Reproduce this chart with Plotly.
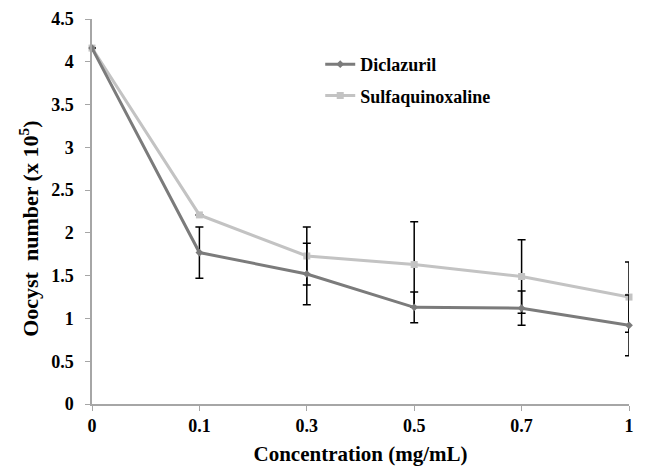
import plotly.graph_objects as go

concentrations = ["0", "0.1", "0.3", "0.5", "0.7", "1"]
diclazuril = [4.16, 1.77, 1.52, 1.13, 1.12, 0.92]
diclazuril_err = [0, 0.30, 0.36, 0.18, 0.20, 0.355]
sulfaquinoxaline = [4.16, 2.21, 1.73, 1.63, 1.49, 1.25]
sulfaquinoxaline_err = [0, 0, 0.34, 0.50, 0.43, 0.41]
y_ticks = [0, 0.5, 1, 1.5, 2, 2.5, 3, 3.5, 4, 4.5]

font_family = "Liberation Serif"

fig = go.Figure()
fig.add_trace(go.Scatter(
    x=concentrations, y=sulfaquinoxaline, name="<b>Sulfaquinoxaline</b>",
    mode="lines+markers", legendgroup="s", legendrank=2,
    line=dict(color="#c3c3c3", width=3),
    marker=dict(symbol="square", size=7, color="#c3c3c3"),
    error_y=dict(type="data", array=sulfaquinoxaline_err, visible=True,
                 color="black", thickness=1.5, width=4),
    cliponaxis=False,
))
fig.add_trace(go.Scatter(
    x=concentrations, y=diclazuril, name="<b>Diclazuril</b>",
    mode="lines+markers", legendgroup="d", legendrank=1,
    line=dict(color="#7b7b7b", width=3),
    marker=dict(symbol="diamond", size=6, color="#7b7b7b"),
    error_y=dict(type="data", array=diclazuril_err, visible=True,
                 color="black", thickness=1.5, width=4),
    cliponaxis=False,
))

fig.update_layout(
    width=646, height=470,
    margin=dict(l=84, r=25, t=11, b=74),
    plot_bgcolor="white", paper_bgcolor="white",
    font=dict(family=font_family, size=18, color="black"),
    showlegend=True,
    legend=dict(x=0.425, y=0.93, xanchor="left", yanchor="top",
                traceorder="grouped", tracegroupgap=5,
                font=dict(family=font_family, size=18, color="black"),
                bgcolor="rgba(0,0,0,0)"),
    xaxis=dict(
        type="category", range=[0, 5], automargin=False,
        showgrid=False, zeroline=False,
        showline=True, linecolor="#a6a6a6", linewidth=1.5,
        ticks="outside", ticklen=5, tickcolor="#a6a6a6",
        ticktext=["<b>%s</b>" % c for c in concentrations], tickvals=concentrations,
        tickfont=dict(family=font_family, size=18),
        title=dict(text="<b>Concentration (mg/mL)</b>", standoff=11,
                   font=dict(family=font_family, size=21)),
    ),
    yaxis=dict(
        range=[0, 4.5], tickvals=y_ticks, automargin=False,
        ticktext=["<b>%g</b>" % v for v in y_ticks],
        showgrid=False, zeroline=False,
        showline=True, linecolor="#a6a6a6", linewidth=1.5,
        ticks="outside", ticklen=5, tickcolor="#a6a6a6",
        ticklabelstandoff=8,
        tickfont=dict(family=font_family, size=18),
    ),
    annotations=[dict(
        text="<b>Oocyst  number (x 10<sup>5</sup>)</b>",
        textangle=-90, xref="paper", yref="paper", x=0, y=0.455,
        xanchor="center", yanchor="middle", xshift=-63, showarrow=False,
        font=dict(family=font_family, size=22, color="black"),
    )],
)

fig.write_html("out.html")
